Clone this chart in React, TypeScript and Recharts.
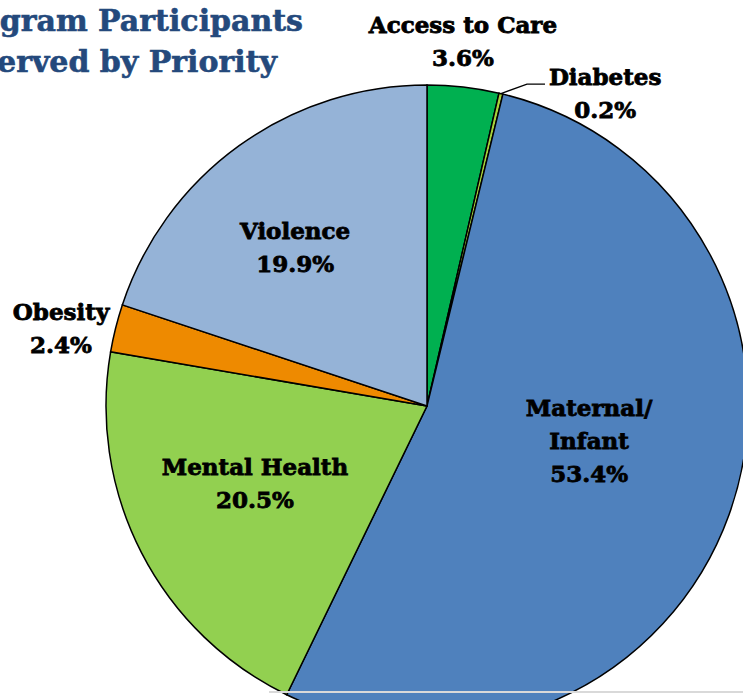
import React from "react";
import { PieChart, Pie, Cell } from "recharts";

const categories = ["Access to Care", "Diabetes", "Maternal/Infant", "Mental Health", "Obesity", "Violence"];
const shares = [3.6, 0.2, 53.4, 20.5, 2.4, 19.9];
const titleLines = ["Program Participants", "Served by Priority"];

const colors = ["#00B050", "#A6D23C", "#4F81BD", "#92D050", "#EE8A00", "#95B3D7"];
// label anchor (center x, first baseline) relative to pie center, in units of outer radius
const labelPos = [
  [0.112, -1.162],
  [0.555, -1.0],
  [0.505, 0.031],
  [-0.536, 0.215],
  [-1.14, -0.268],
  [-0.411, -0.52],
];
const leaderIndex = 1;
const leaderPts = [
  [0.3115, -1.003],
  [0.3676, -1.003],
];

const data = categories.map((name, i) => ({ name, value: shares[i] }));

const FONT = "'DejaVu Serif', serif";
const RAD = Math.PI / 180;

const renderLabel = (props: any) => {
  const { cx, cy, outerRadius, index, midAngle, name, value } = props;
  const [fx, fy] = labelPos[index];
  const x = cx + fx * outerRadius;
  const y = cy + fy * outerRadius;
  const lines = name.includes("/") ? [name.slice(0, name.indexOf("/") + 1), name.slice(name.indexOf("/") + 1)] : [name];
  lines.push(`${Number(value).toFixed(1)}%`);
  let leader = null;
  if (index === leaderIndex) {
    const sx = cx + outerRadius * Math.cos(-midAngle * RAD);
    const sy = cy + outerRadius * Math.sin(-midAngle * RAD);
    const pts = [[sx, sy], ...leaderPts.map(([a, b]) => [cx + a * outerRadius, cy + b * outerRadius])];
    leader = <polyline points={pts.map((p) => p.join(",")).join(" ")} fill="none" stroke="#000" strokeWidth={1.3} />;
  }
  return (
    <g key={`lbl-${index}`}>
      {leader}
      <text
        x={x}
        y={y}
        textAnchor="middle"
        fontFamily={FONT}
        fontWeight="bold"
        fontSize={23}
        fill="#000"
        stroke="#000"
        strokeWidth={0.8}
      >
        {lines.map((l, k) => (
          <tspan key={k} x={x} dy={k === 0 ? 0 : 33}>
            {l}
          </tspan>
        ))}
      </text>
    </g>
  );
};

export default function App() {
  return (
    <div style={{ position: "absolute", left: 0, top: 0, width: 743, height: 700, overflow: "hidden", background: "#fff" }}>
      <PieChart width={743} height={700} margin={{ top: 0, right: 0, bottom: 0, left: 0 }}>
        <Pie
          data={data}
          dataKey="value"
          nameKey="name"
          cx={427}
          cy={406}
          outerRadius={321}
          startAngle={90}
          endAngle={-270}
          stroke="#000"
          strokeWidth={1.5}
          label={renderLabel}
          labelLine={false}
          isAnimationActive={false}
        >
          {data.map((d, i) => (
            <Cell key={d.name} fill={colors[i]} />
          ))}
        </Pie>
        <text x={303} y={31} textAnchor="end" fontFamily={FONT} fontWeight="bold" fontSize={30} fill="#24497C" stroke="#24497C" strokeWidth={0.6}>
          {titleLines[0]}
        </text>
        <text x={277} y={72} textAnchor="end" fontFamily={FONT} fontWeight="bold" fontSize={30} fill="#24497C" stroke="#24497C" strokeWidth={0.6}>
          {titleLines[1]}
        </text>
      </PieChart>
      <div style={{ position: "absolute", left: 269, top: 691, width: 474, height: 2, background: "#D9D9D9" }} />
    </div>
  );
}
